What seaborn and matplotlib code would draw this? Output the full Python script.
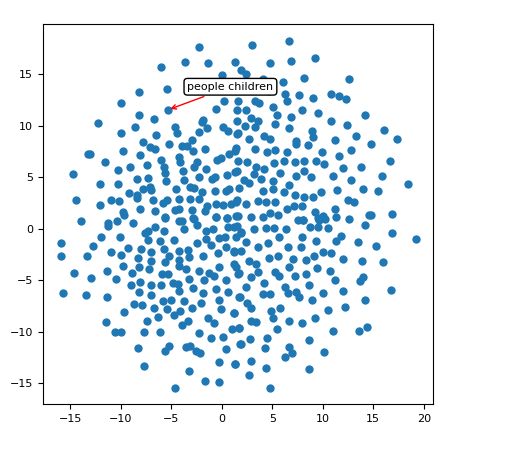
import matplotlib
matplotlib.use("Agg")
import matplotlib.pyplot as plt
import seaborn as sns
import pandas as pd

# point coordinates (embedding-like scatter)
pts_upper_left = [
    (-2.28, 17.7), (-3.63, 16.2), (-1.35, 16.1), (-6.0, 15.7), (1.32, 16.2), (0.03, 14.9),
    (-5.4, 13.6), (-8.2, 13.3), (-10.0, 12.2), (-5.35, 11.55), (-8.2, 11.1), (-6.7, 10.7),
    (-12.2, 10.3), (-10.0, 9.3), (-8.6, 9.9), (-4.65, 9.9), (-4.45, 9.3), (-6.5, 9.1),
    (-7.8, 8.4), (-5.2, 8.25), (-7.1, 7.95), (-6.6, 7.8), (-3.9, 8.05), (-3.45, 8.05),
    (-2.9, 8.6), (-2.0, 10.35), (-1.9, 10.6), (-1.45, 9.8), (-2.2, 9.4), (-0.6, 11.6),
    (0.27, 12.4), (1.5, 11.5), (1.5, 10.5), (0.1, 9.9), (0.66, 9.55), (1.5, 9.2),
    (-13.2, 7.3), (-13.0, 7.3), (-9.8, 7.55), (-8.1, 7.15), (-11.6, 6.5), (-9.1, 6.05),
    (-7.4, 6.2), (-6.0, 6.7), (-4.2, 7.0), (-4.1, 6.45), (-2.8, 7.55), (-1.65, 7.75),
    (-2.45, 6.5), (-1.6, 5.8), (-0.5, 6.7), (-0.07, 6.9), (0.76, 7.3), (1.36, 7.6),
    (-14.7, 5.3), (-10.3, 5.7), (-5.7, 6.05), (-5.6, 5.4), (-3.85, 5.6), (-2.75, 6.0),
    (-2.2, 5.0), (-1.0, 4.8), (-0.66, 5.0), (0.5, 5.2), (1.5, 5.65), (-12.0, 4.4),
    (-10.3, 4.35), (-8.4, 4.85), (-7.3, 4.95), (-5.5, 4.7), (-3.7, 4.75), (-3.1, 4.1),
    (-2.7, 4.0), (-4.5, 3.9), (-7.8, 3.85), (-7.1, 4.1), (-7.0, 3.8), (-14.4, 2.85),
    (-10.95, 2.8), (-10.2, 2.7), (-12.0, 2.3), (-9.2, 3.45), (-8.4, 3.3), (-8.4, 3.0),
    (-6.85, 2.8), (-5.8, 2.5), (-5.4, 2.8), (-4.25, 2.9), (-4.2, 1.95), (-3.1, 2.95),
    (-2.25, 2.95), (-1.95, 3.6), (-0.66, 3.7), (0.46, 3.7), (0.76, 3.9), (-1.5, 2.25),
    (-0.56, 2.4), (0.1, 2.35), (0.9, 2.4), (1.5, 2.85), (-9.8, 1.6), (-8.1, 1.95),
    (-6.65, 1.7), (-4.65, 1.8), (-2.9, 1.85), (-1.65, 1.7), (-0.56, 1.2), (0.5, 1.1),
    (1.4, 1.3), (-13.9, 0.75), (-11.3, 0.55), (-8.8, 0.6), (-5.6, 1.2), (-3.95, 0.8),
    (-2.7, 1.0),
]
pts_upper_right = [
    (6.7, 18.2), (3.0, 17.9), (6.86, 16.3), (9.24, 16.6), (4.78, 16.1), (1.9, 15.4),
    (2.4, 15.05), (8.15, 14.65), (12.6, 14.55), (6.04, 14.25), (4.13, 14.55), (4.72, 13.4),
    (6.27, 13.1), (7.65, 13.0), (10.8, 13.1), (11.65, 12.9), (12.3, 12.6), (1.6, 12.4),
    (3.34, 12.45), (3.73, 12.2), (6.44, 12.4), (9.04, 12.7), (5.05, 11.8), (7.95, 11.55),
    (9.5, 11.3), (2.4, 11.55), (5.45, 11.1), (6.9, 10.85), (2.9, 10.8), (3.56, 10.5),
    (3.34, 9.9), (5.28, 10.2), (6.7, 9.8), (10.8, 10.45), (12.4, 10.1), (14.2, 11.1),
    (16.1, 9.6), (17.4, 8.7), (1.6, 9.3), (2.3, 10.0), (4.2, 9.06), (4.8, 8.7),
    (8.9, 9.55), (9.07, 8.9), (7.36, 8.57), (11.2, 8.67), (13.3, 9.0), (14.8, 8.25),
    (2.74, 8.74), (1.42, 7.9), (3.34, 7.77), (4.46, 7.45), (5.3, 7.67), (6.5, 7.48),
    (7.4, 8.25), (8.5, 8.16), (9.9, 7.48), (12.8, 7.64), (16.7, 6.57), (11.6, 7.1),
    (13.8, 6.0), (15.9, 5.1), (18.4, 4.33), (1.65, 6.57), (2.5, 6.47), (3.4, 6.0),
    (4.2, 5.83), (5.2, 6.38), (6.17, 6.57), (7.26, 6.54), (8.18, 6.6), (9.3, 6.57),
    (10.1, 6.28), (12.0, 5.92), (1.35, 5.5), (2.25, 4.76), (3.17, 5.34), (3.86, 4.85),
    (5.05, 4.7), (5.77, 5.44), (6.63, 4.27), (7.35, 5.17), (8.1, 5.63), (8.84, 5.08),
    (11.0, 5.1), (12.8, 4.76), (14.0, 3.9), (15.5, 3.72), (1.75, 3.98), (2.74, 4.44),
    (4.06, 3.72), (5.05, 3.9), (6.2, 3.56), (7.26, 3.27), (8.1, 3.14), (9.08, 3.14),
    (9.83, 3.56), (11.4, 3.79), (12.5, 2.82), (13.1, 2.6), (1.42, 2.6), (2.4, 2.43),
    (3.56, 2.75), (4.4, 2.6), (5.3, 2.62), (6.47, 1.94), (7.2, 2.26), (7.95, 2.26),
    (9.2, 1.68), (10.0, 1.23), (11.2, 1.94), (12.6, 0.97), (14.6, 1.39), (16.9, 1.46),
    (1.6, 1.3), (2.9, 1.2), (4.06, 1.2), (4.78, 1.52), (8.02, 0.87), (9.67, 0.87),
]
pts_lower_left = [
    (-11.3, 0.32), (-10.4, 0.8), (-9.7, 1.39), (-7.6, -0.42), (-7.3, -0.22), (-6.6, 0.22),
    (-5.67, -0.16), (-5.57, 1.07), (-4.2, 0.8), (-3.76, 0.0), (-2.87, 1.07), (-2.44, 0.42),
    (-1.55, -0.16), (-0.9, 0.0), (-0.56, 1.13), (0.5, 1.07), (0.6, 0.16), (1.49, 0.32),
    (1.88, -0.39), (0.36, -0.8), (-15.9, -1.39), (-12.7, -1.62), (-11.95, -0.75), (-10.1, -0.75),
    (-9.24, -1.84), (-8.0, -1.94), (-7.33, -1.07), (-6.1, -1.2), (-4.7, -1.07), (-5.74, -1.94),
    (-7.0, -2.27), (-4.2, -2.17), (-3.3, -2.04), (-2.44, -1.39), (-1.55, -0.97), (-1.06, -1.52),
    (-0.23, -0.87), (0.43, -1.78), (1.25, -2.27), (-15.9, -2.65), (-13.3, -2.59), (-10.96, -2.27),
    (-9.97, -2.49), (-8.3, -2.85), (-7.0, -3.08), (-5.18, -2.59), (-4.26, -2.98), (-3.2, -2.69),
    (-1.88, -2.59), (-0.4, -2.36), (-14.65, -4.3), (-12.9, -4.79), (-11.36, -4.05), (-10.46, -4.85),
    (-9.8, -3.62), (-8.88, -4.3), (-8.15, -3.72), (-7.16, -3.88), (-5.94, -4.37), (-5.28, -4.37),
    (-5.57, -3.23), (-4.2, -3.56), (-3.53, -3.88), (-2.28, -4.05), (-1.22, -4.3), (-0.23, -3.72),
    (1.42, -3.72), (-15.7, -6.24), (-13.4, -6.44), (-11.36, -6.57), (-8.98, -5.47), (-8.05, -5.18),
    (-7.0, -5.47), (-6.0, -5.44), (-4.85, -5.24), (-4.36, -5.34), (-3.27, -4.85), (-1.78, -4.95),
    (-0.72, -4.53), (0.43, -4.95), (1.68, -4.3), (-8.15, -6.15), (-7.0, -6.44), (-4.2, -6.05),
    (-2.8, -5.73), (-1.81, -6.24), (-0.59, -5.83), (0.6, -6.15), (1.78, -6.63), (-8.68, -7.31),
    (-7.9, -7.38), (-6.66, -7.7), (-5.84, -7.02), (-5.0, -6.9), (-3.7, -6.96), (-2.05, -7.22),
    (-0.23, -6.9), (-9.63, -8.09), (-11.45, -9.06), (-7.4, -8.93), (-6.34, -8.57), (-5.4, -7.8),
    (-4.7, -8.32), (-4.13, -7.93), (-2.94, -7.7), (-1.32, -8.64), (-0.72, -9.16), (-0.07, -7.8),
    (1.25, -8.2), (-10.6, -10.03), (-9.97, -10.03), (-7.7, -10.03), (-6.1, -10.03), (-3.96, -9.35),
    (-3.3, -8.9), (-2.28, -10.07), (-1.06, -10.6), (0.13, -10.5), (0.99, -9.7), (1.68, -9.64),
    (-8.28, -11.58), (-5.6, -11.8), (-5.18, -11.4), (-3.53, -11.5), (-3.14, -11.36), (-2.54, -11.8),
    (-2.15, -12.0), (0.43, -11.68), (1.81, -11.17), (-7.65, -13.3), (-3.27, -13.8), (-0.27, -12.94),
    (1.32, -13.1), (-4.6, -15.4), (-1.65, -14.8), (-0.27, -14.9),
]
pts_lower_right = [
    (5.55, 1.39), (7.6, 0.87), (8.0, 0.9), (9.5, 1.07), (10.2, 0.97), (11.3, 1.13),
    (14.8, 1.39), (1.26, 0.16), (1.9, -0.32), (3.24, 0.0), (4.39, 0.1), (5.22, 0.1),
    (6.37, 0.0), (8.74, 0.22), (9.5, 0.16), (10.5, 0.1), (14.2, 0.39), (16.9, -0.39),
    (19.2, -0.97), (1.42, -0.81), (2.4, -1.29), (3.56, -1.78), (4.55, -1.36), (5.7, -0.81),
    (6.53, -1.78), (7.85, -1.78), (7.95, -0.75), (9.34, -1.13), (11.3, -1.13), (11.8, -0.71),
    (13.5, -1.23), (15.3, -1.68), (1.26, -2.17), (1.9, -2.1), (2.74, -3.08), (3.4, -3.4),
    (4.72, -2.82), (5.55, -2.62), (7.03, -2.91), (8.35, -3.0), (9.18, -2.65), (10.0, -2.27),
    (10.8, -2.36), (12.0, -2.91), (13.9, -3.14), (16.0, -3.23), (1.26, -3.4), (1.58, -4.37),
    (2.9, -4.69), (3.63, -4.2), (5.3, -4.2), (5.7, -4.53), (6.7, -3.72), (7.26, -4.56),
    (8.35, -4.37), (9.44, -3.82), (10.7, -4.05), (11.2, -4.95), (13.7, -5.08), (14.0, -4.69),
    (16.8, -5.95), (2.4, -5.6), (4.22, -5.24), (4.13, -6.31), (4.78, -6.31), (6.27, -5.6),
    (6.53, -6.24), (7.35, -6.09), (7.7, -6.63), (8.65, -5.47), (8.91, -6.92), (10.0, -6.24),
    (11.98, -6.05), (14.2, -6.92), (1.75, -6.63), (2.48, -7.22), (2.9, -7.67), (1.19, -8.18),
    (4.88, -7.93), (5.05, -8.64), (5.77, -7.67), (6.7, -8.9), (7.92, -9.16), (9.24, -8.67),
    (10.5, -7.9), (12.2, -7.6), (2.9, -8.9), (3.4, -9.06), (1.68, -9.64), (5.48, -9.74),
    (11.0, -9.93), (13.6, -9.93), (14.4, -9.48), (1.91, -11.2), (2.8, -10.7), (4.49, -10.6),
    (4.29, -11.6), (6.7, -11.5), (6.96, -12.07), (6.27, -12.4), (8.65, -10.78), (10.1, -11.97),
    (1.36, -13.1), (2.9, -12.8), (4.39, -13.5), (8.65, -13.6), (2.7, -14.2), (4.78, -15.4),
]

label_text = "people children"
label_point = (-5.35, 11.55)

pts = pts_upper_left + pts_upper_right + pts_lower_left + pts_lower_right
df = pd.DataFrame(pts, columns=["x", "y"])

fig = plt.figure(figsize=(5.11, 4.51), dpi=100)
ax = fig.add_axes([0.084, 0.104, 0.763, 0.843])
sns.scatterplot(data=df, x="x", y="y", ax=ax, s=36, linewidth=0, color="#1f77b4")
ax.set_xlim(-17.7, 20.9)
ax.set_ylim(-17.0, 19.9)
ax.set_xlabel("")
ax.set_ylabel("")
ax.tick_params(labelsize=8)

ax.annotate(label_text, xy=label_point, xytext=(-3.4, 13.8),
            ha="left", va="center", fontsize=8,
            bbox=dict(boxstyle="round", fc="white", ec="black"),
            arrowprops=dict(arrowstyle="->", color="red"))

fig.savefig("out.png", dpi=100)
